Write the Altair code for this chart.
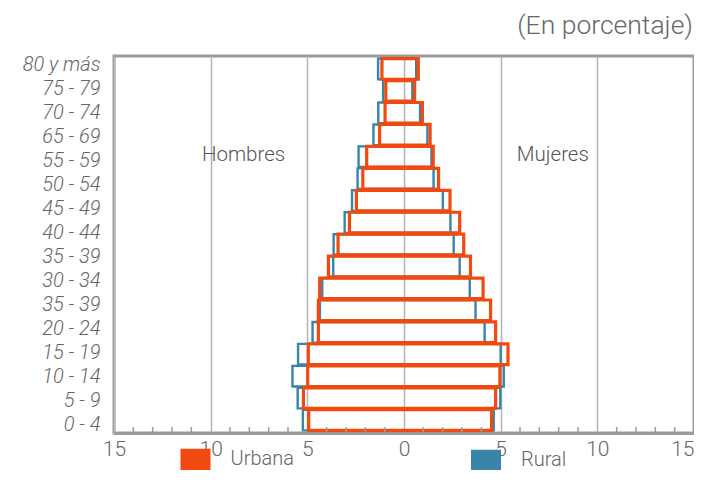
import json
import altair as alt
import pandas as pd

# 17 age groups drawn as bars (top to bottom)
age_groups = ["80+", "75-79", "70-74", "65-69", "60-64", "55-59", "50-54", "45-49",
              "40-44", "35-39", "30-34", "25-29", "20-24", "15-19", "10-14", "5-9", "0-4"]
urban_men = [1.14, 0.94, 0.98, 1.26, 1.93, 2.13, 2.46, 2.82, 3.41, 3.91, 4.36, 4.43, 4.43, 4.95, 4.98, 5.20, 4.93]
urban_women = [0.74, 0.55, 0.95, 1.35, 1.51, 1.79, 2.38, 2.88, 3.09, 3.44, 4.09, 4.48, 4.74, 5.38, 4.96, 4.74, 4.53]
rural_men = [1.34, 1.08, 1.33, 1.58, 2.35, 2.40, 2.69, 3.07, 3.64, 3.66, 4.23, 4.35, 4.73, 5.48, 5.77, 5.50, 5.23]
rural_women = [0.63, 0.43, 0.83, 1.21, 1.42, 1.53, 2.01, 2.40, 2.57, 2.88, 3.40, 3.70, 4.17, 5.00, 5.16, 4.98, 4.64]

# axis labels as printed in the reference (16 labels)
axis_labels = ["80 y más", "75 - 79", "70 - 74", "65 - 69", "55 - 59", "50 - 54", "45 - 49", "40 - 44",
               "35 - 39", "30 - 34", "35 - 39", "20 - 24", "15 - 19", "10 - 14", "5 - 9", "0 - 4"]

areas = ["Urbana", "Rural"]
area_colors = ["#F04A10", "#3A84A8"]
x_ticks = [-15, -10, -5, 0, 5, 10, 15]
minor_ticks = [v for v in range(-14, 15) if v % 5 != 0]
annotations = ["Hombres", "Mujeres"]
annotation_pos = [-8.3, 7.7]

FONT = "Roboto"

rows = []
for g, m, w in zip(age_groups, rural_men, rural_women):
    rows.append({"age": g, "area": "Rural", "left": -m, "right": w})
for g, m, w in zip(age_groups, urban_men, urban_women):
    rows.append({"age": g, "area": "Urbana", "left": -m, "right": w})
bar_df = pd.DataFrame(rows)

xscale = alt.Scale(domain=[-15, 15], nice=False, zero=False)
x_axis = alt.Axis(values=x_ticks, labelExpr="abs(datum.value)", grid=True,
                  gridColor="#b4b4b4", gridWidth=1.5, ticks=False,
                  domainColor="#9b9b9b", domainWidth=3, labelFont=FONT,
                  labelFontSize=21, labelFontWeight=300, labelColor="#666",
                  labelPadding=5, title=None, labelFlush=False,
                  labelAlign={"condition": {"test": "datum.value == 15", "value": "right"},
                              "value": "center"})

# solid legend swatch drawn as a stack of stroked lines (legend symbols are stroked)
swatch = "".join("M-1.5,%.1fH1.5" % (y / 10) for y in range(-9, 10, 2))

legend = alt.Legend(
    title=None, orient="none", legendX=69.5, legendY=391, direction="horizontal",
    columns=2, columnPadding=171.5,
    symbolType=swatch, symbolSize=400,
    labelFont=FONT, labelFontSize=20, labelColor="#666", labelFontWeight=300, labelOffset=23,
)

bars = alt.Chart(bar_df).mark_bar(filled=False).encode(
    x=alt.X("left:Q", scale=xscale, axis=x_axis, title=None),
    x2="right:Q",
    y=alt.Y("age:N", sort=age_groups, axis=None,
            scale=alt.Scale(paddingInner=0.06, paddingOuter=0.12)),
    color=alt.Color("area:N", scale=alt.Scale(domain=areas, range=area_colors), legend=legend),
    strokeWidth=alt.StrokeWidth("area:N", scale=alt.Scale(domain=areas, range=[3.2, 2.4]), legend=None),
)

lab_df = pd.DataFrame({"i": list(range(len(axis_labels))), "lab": axis_labels})
label_expr = json.dumps(axis_labels, ensure_ascii=False) + "[datum.value]"
labels_layer = alt.Chart(lab_df).mark_point(opacity=0).encode(
    y=alt.Y("i:O", scale=alt.Scale(type="point", padding=0.35),
            axis=alt.Axis(orient="left", labelExpr=label_expr, ticks=False, domain=False,
                          title=None, labelFontStyle="italic", labelFontSize=20,
                          labelFontWeight=300, labelPadding=14, labelColor="#666",
                          labelFont=FONT, grid=False)),
    x=alt.value(0),
)

ann_df = pd.DataFrame({"txt": annotations, "pos": annotation_pos})
ann = alt.Chart(ann_df).mark_text(fontSize=20.5, font=FONT, fontWeight=300, color="#555").encode(
    x=alt.X("pos:Q", scale=xscale, axis=x_axis, title=None),
    y=alt.value(99),
    text="txt:N",
)

tick_df = pd.DataFrame({"t": minor_ticks})
ticks = alt.Chart(tick_df).mark_rule(color="#9b9b9b", strokeWidth=1.5).encode(
    x=alt.X("t:Q", scale=xscale, axis=x_axis, title=None),
    y=alt.value(371),
    y2=alt.value(377),
)

chart = alt.layer(bars, ann, ticks, labels_layer).resolve_scale(y="independent").properties(
    width=580, height=377,
    autosize="none",
    padding={"left": 106, "top": 48, "right": 0, "bottom": 39},
    title=alt.Title("(En porcentaje)", anchor="end", fontSize=26.5, font=FONT, fontWeight=300,
                    color="#666", offset=15, dx=-1),
).configure_view(stroke="#9b9b9b", strokeWidth=3)

chart.save("out.html", embed_options={"renderer": "svg", "actions": False})
